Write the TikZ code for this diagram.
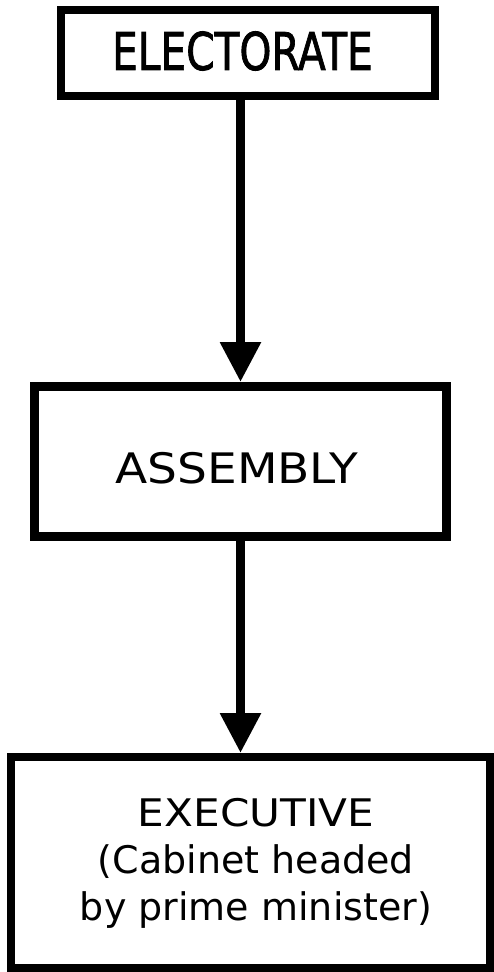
\documentclass[tikz,border=0pt]{standalone}
\usepackage{fontspec}
\usepackage{graphicx}
\setmainfont{DejaVu Sans}
\newfontfamily\condfont[FakeBold=1.5]{DejaVu Sans Condensed}
\usetikzlibrary{arrows.meta}
\begin{document}
\begin{tikzpicture}[x=1pt,y=-1pt,
  box/.style={draw=black,line width=#1,fill=none,inner sep=0pt,outer sep=0.5*#1},
  lbl/.style={inner sep=0pt,outer sep=0pt,text=black},
  conn/.style={draw=black,line width=9pt,-{Triangle[width=39pt,length=40pt]}}]
\useasboundingbox[fill=white] (0,0) rectangle (494,972);
\node[box=8pt,minimum width=374pt,minimum height=86pt] (b1) at (248,53) {};
\node[box=9pt,minimum width=412pt,minimum height=150pt] (b2) at (240.5,461.5) {};
\node[box=8pt,minimum width=479pt,minimum height=211pt] (b3) at (250.5,862.5) {};
\node[lbl,font=\condfont\fontsize{52}{60}\selectfont] (t1) at (242.5,51) {\scalebox{0.87}[1]{ELECTORATE}};
\node[lbl,font=\fontsize{42}{50}\selectfont] (t2) at (237,468.5) {\scalebox{1.12}[1]{ASSEMBLY}};
\node[lbl,font=\fontsize{38}{47}\selectfont,align=center,anchor=base] (t3) at (256,920) {\scalebox{1.11}[1]{EXECUTIVE}\\(Cabinet headed\\by prime minister)};
\draw[conn] (b2.north |- b1.south) -- (b2.north);
\draw[conn] (b2.south) -- (b2.south |- b3.north);
\end{tikzpicture}
\end{document}
